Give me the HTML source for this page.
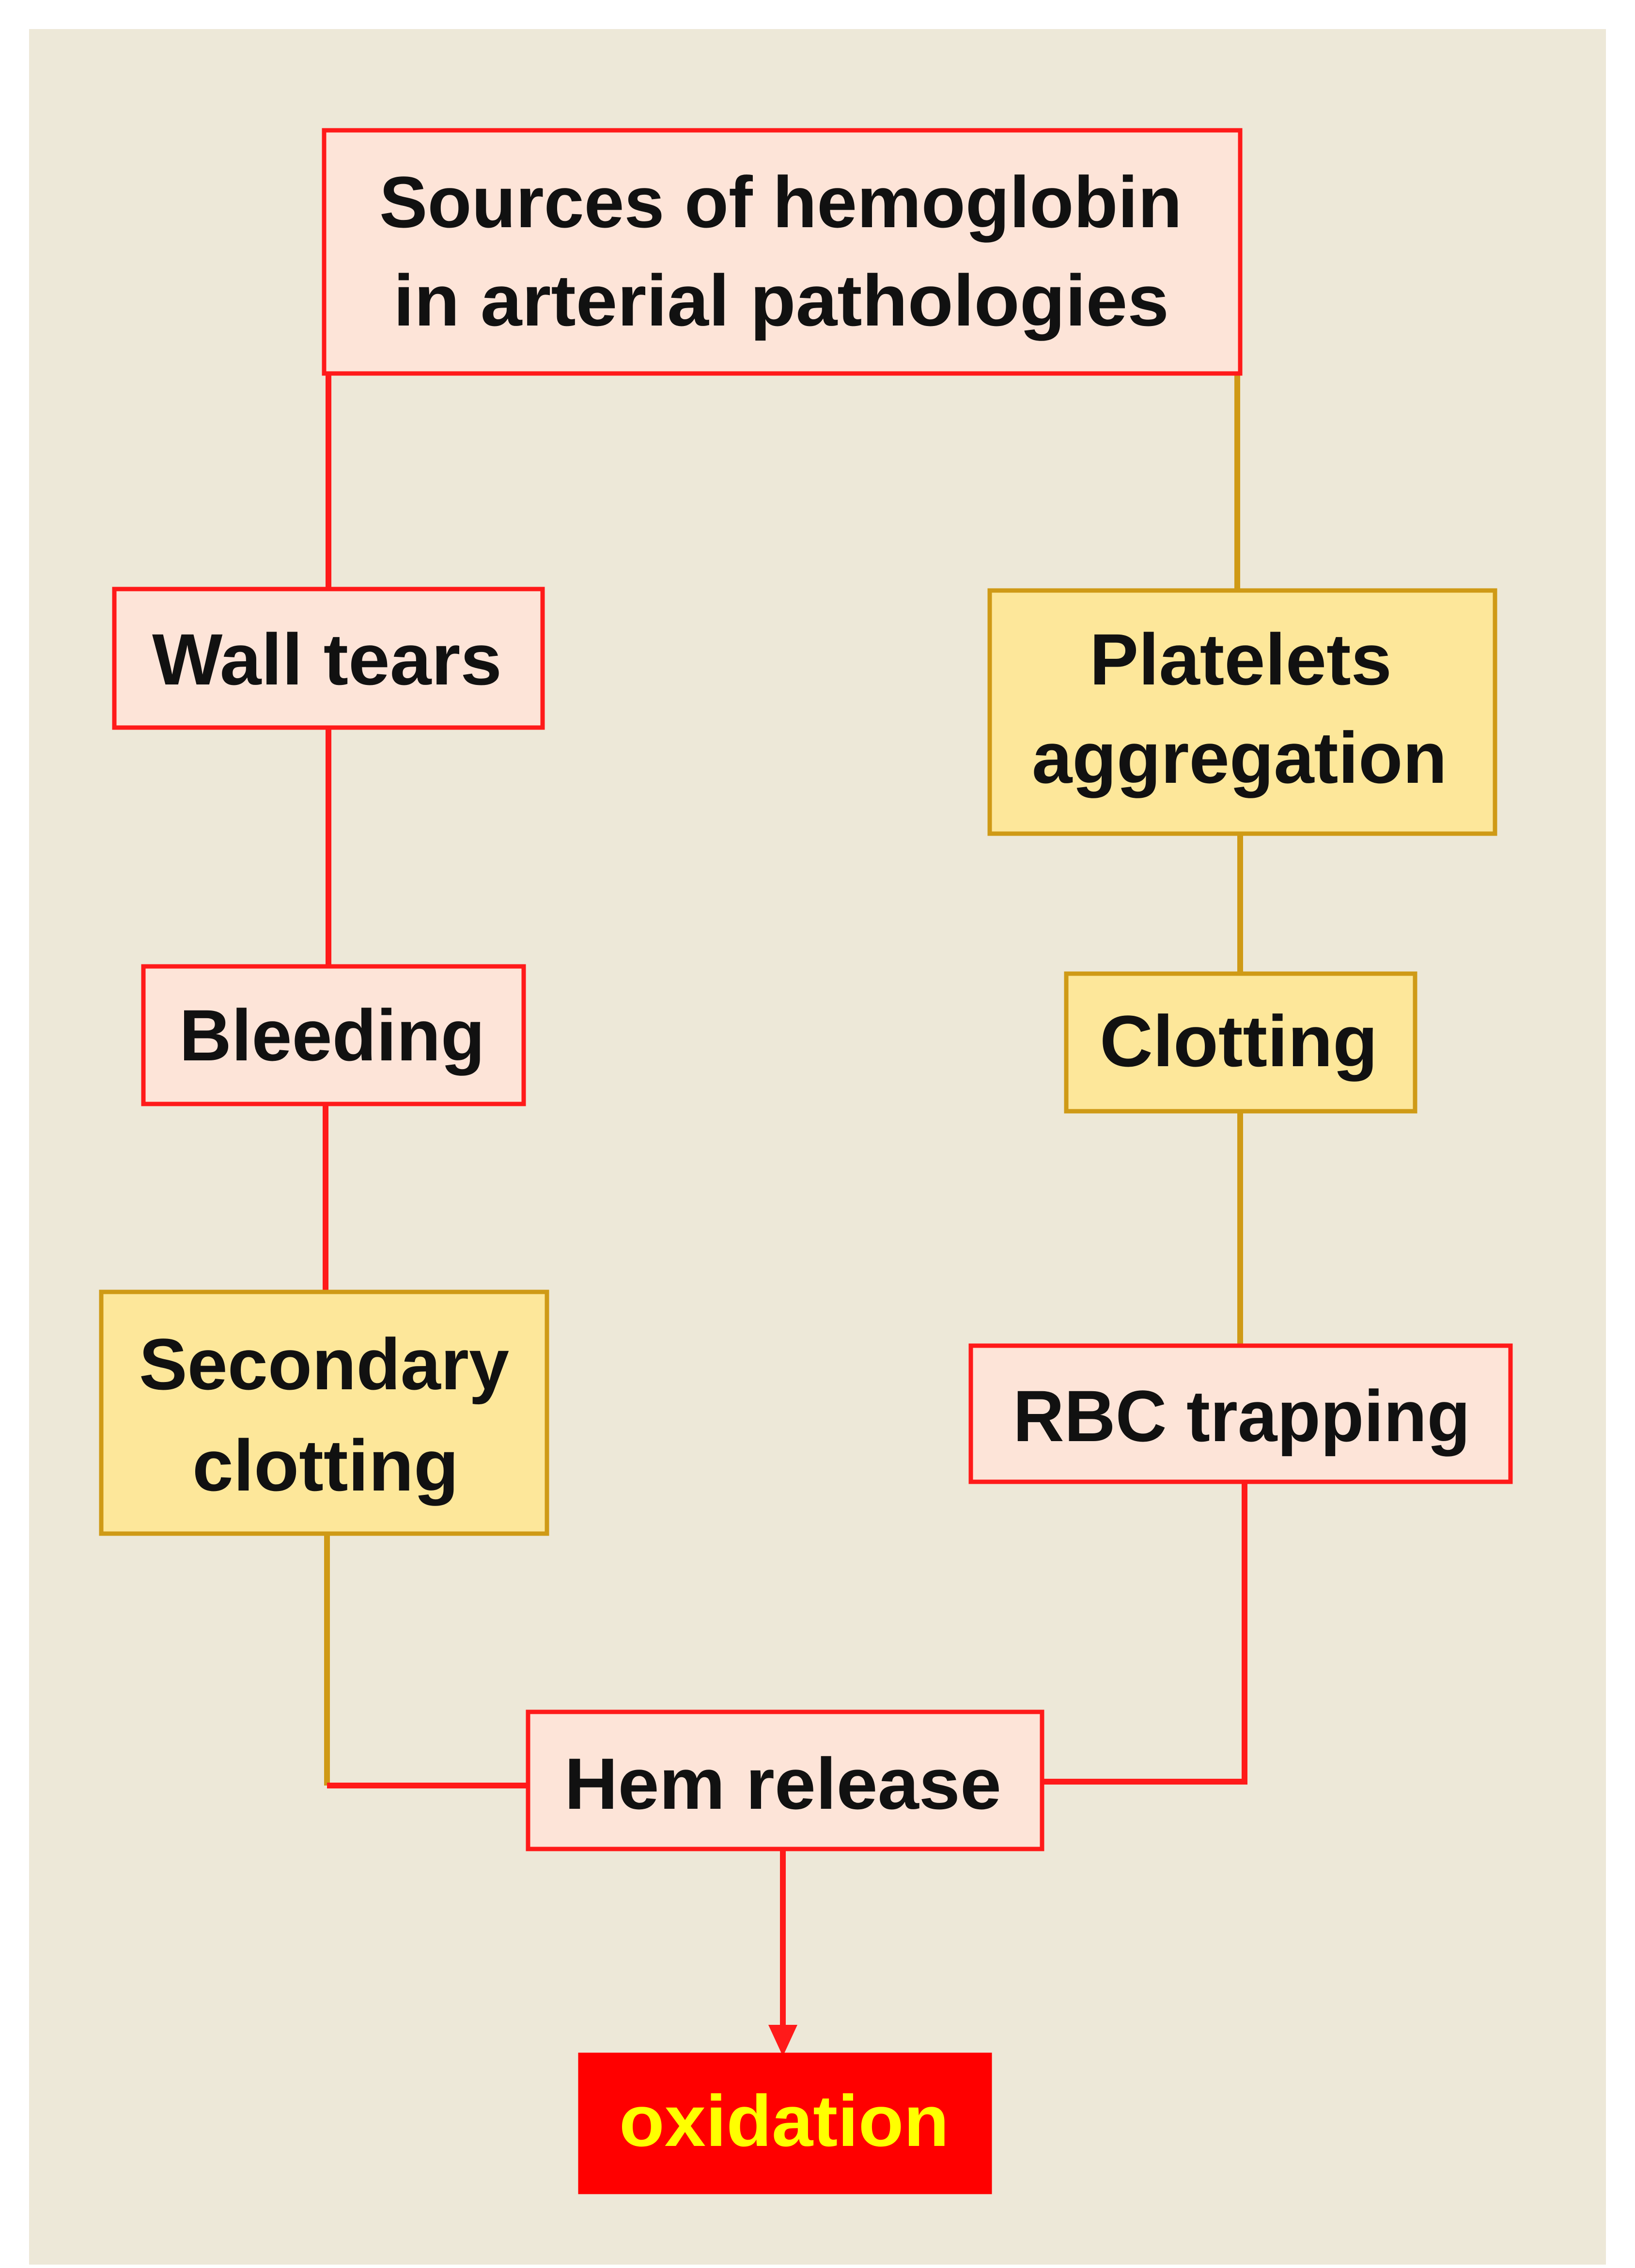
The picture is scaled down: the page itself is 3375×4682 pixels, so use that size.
<!DOCTYPE html>
<html><head><meta charset="utf-8"><style>
html,body{margin:0;padding:0;background:#fff;}
svg{display:block;}
text{font-family:"Liberation Sans",sans-serif;font-weight:bold;font-size:150px;fill:#111;}
</style></head><body>
<svg width="3375" height="4682" viewBox="0 0 3375 4682" xmlns="http://www.w3.org/2000/svg">
<rect x="60" y="60" width="3255" height="4615" fill="#ede8d8"/>
<!-- connectors -->
<g fill="none" stroke-width="12">
<line x1="678" y1="771" x2="678" y2="1216" stroke="#ff1a1a"/>
<line x1="2554" y1="771" x2="2554" y2="1219" stroke="#cf9a16"/>
<line x1="678" y1="1502" x2="678" y2="1995" stroke="#ff1a1a"/>
<line x1="2560" y1="1721" x2="2560" y2="2010" stroke="#cf9a16"/>
<line x1="672" y1="2279" x2="672" y2="2667" stroke="#ff1a1a"/>
<line x1="2560" y1="2294" x2="2560" y2="2778" stroke="#cf9a16"/>
<polyline points="675,3166 675,3686" stroke="#cf9a16"/>
<polyline points="675,3686 1090,3686" stroke="#ff1a1a"/>
<polyline points="2569,3059 2569,3678 2151,3678" stroke="#ff1a1a"/>
<line x1="1616" y1="3817" x2="1616" y2="4185" stroke="#ff1a1a"/>
</g>
<polygon points="1586,4180 1646,4180 1616,4245" fill="#ff1a1a"/>
<!-- boxes -->
<g stroke-width="9">
<rect x="669" y="269" width="1891" height="502" fill="#fde4d8" stroke="#ff1a1a"/>
<rect x="236" y="1216" width="884" height="286" fill="#fde4d8" stroke="#ff1a1a"/>
<rect x="2043" y="1219" width="1043" height="502" fill="#fde79a" stroke="#cf9a16"/>
<rect x="296" y="1995" width="785" height="284" fill="#fde4d8" stroke="#ff1a1a"/>
<rect x="2201" y="2010" width="720" height="284" fill="#fde79a" stroke="#cf9a16"/>
<rect x="209" y="2667" width="920" height="499" fill="#fde79a" stroke="#cf9a16"/>
<rect x="2004" y="2778" width="1114" height="281" fill="#fde4d8" stroke="#ff1a1a"/>
<rect x="1090" y="3534" width="1061" height="283" fill="#fde4d8" stroke="#ff1a1a"/>
<rect x="1198" y="4242" width="845" height="283" fill="#ff0000" stroke="#ff0000"/>
</g>
<!-- text -->
<text x="783" y="469" textLength="1657" lengthAdjust="spacingAndGlyphs">Sources of hemoglobin</text>
<text x="812" y="672" textLength="1601" lengthAdjust="spacingAndGlyphs">in arterial pathologies</text>
<text x="314" y="1413" textLength="722" lengthAdjust="spacingAndGlyphs">Wall tears</text>
<text x="2249" y="1413" textLength="624" lengthAdjust="spacingAndGlyphs">Platelets</text>
<text x="2130" y="1616" textLength="857" lengthAdjust="spacingAndGlyphs">aggregation</text>
<text x="370" y="2189" textLength="631" lengthAdjust="spacingAndGlyphs">Bleeding</text>
<text x="2270" y="2201" textLength="574" lengthAdjust="spacingAndGlyphs">Clotting</text>
<text x="287" y="2868" textLength="764" lengthAdjust="spacingAndGlyphs">Secondary</text>
<text x="397" y="3077" textLength="550" lengthAdjust="spacingAndGlyphs">clotting</text>
<text x="2091" y="2975" textLength="944" lengthAdjust="spacingAndGlyphs">RBC trapping</text>
<text x="1165" y="3734" textLength="902" lengthAdjust="spacingAndGlyphs">Hem release</text>
<text x="1278" y="4430" textLength="681" lengthAdjust="spacingAndGlyphs" style="fill:#ffff00">oxidation</text>
</svg>
</body></html>
